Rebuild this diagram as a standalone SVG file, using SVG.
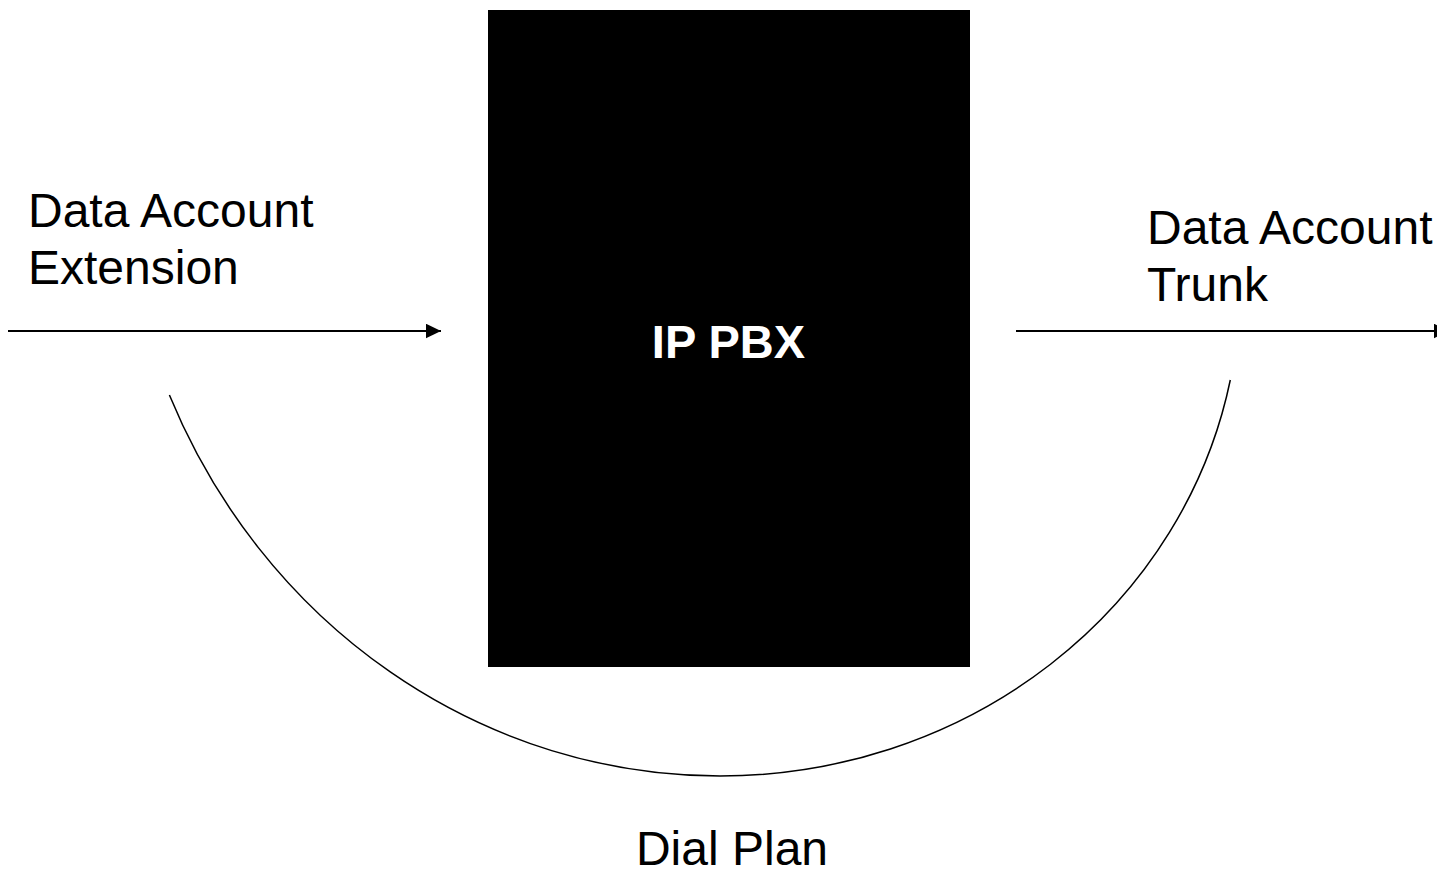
<svg xmlns="http://www.w3.org/2000/svg" width="1437" height="872" viewBox="0 0 1437 872">
<style>
  .lbl { font-family: "Liberation Sans", Arial, sans-serif; font-size: 48px; fill: #000; }
  .title { font-family: "Liberation Sans", Arial, sans-serif; font-size: 47px; font-weight: bold; fill: #fff; }
  .conn { stroke: #000; stroke-width: 2; fill: none; }
  .arc { stroke: #000; stroke-width: 1.5; fill: none; }
</style>
<defs>
  <marker id="arrow" markerUnits="userSpaceOnUse" markerWidth="16" markerHeight="16" refX="15.5" refY="7.5" orient="auto">
    <path d="M0,0 L15.5,7.5 L0,15 Z" fill="#000"/>
  </marker>
</defs>
<rect width="1437" height="872" fill="#fff"/>
<g id="pbx">
  <rect x="488" y="10" width="482" height="657" fill="#000"/>
  <text class="title" x="728.5" y="358" text-anchor="middle">IP PBX</text>
</g>
<g id="extension">
  <text class="lbl" x="28" y="227">Data Account</text>
  <text class="lbl" x="28" y="284">Extension</text>
</g>
<g id="trunk">
  <text class="lbl" x="1147" y="244">Data Account</text>
  <text class="lbl" x="1147" y="301">Trunk</text>
</g>
<g id="dialplan">
  <text class="lbl" x="732" y="865" text-anchor="middle">Dial Plan</text>
</g>
<g id="connectors">
  <line class="conn" x1="8" y1="331" x2="441" y2="331" marker-end="url(#arrow)"/>
  <line class="conn" x1="1016" y1="331" x2="1449" y2="331" marker-end="url(#arrow)"/>
  <path class="arc" d="M169.4,395 A600,632 0 0 0 720,776 A520,490 0 0 0 1230.3,380"/>
</g>
</svg>
